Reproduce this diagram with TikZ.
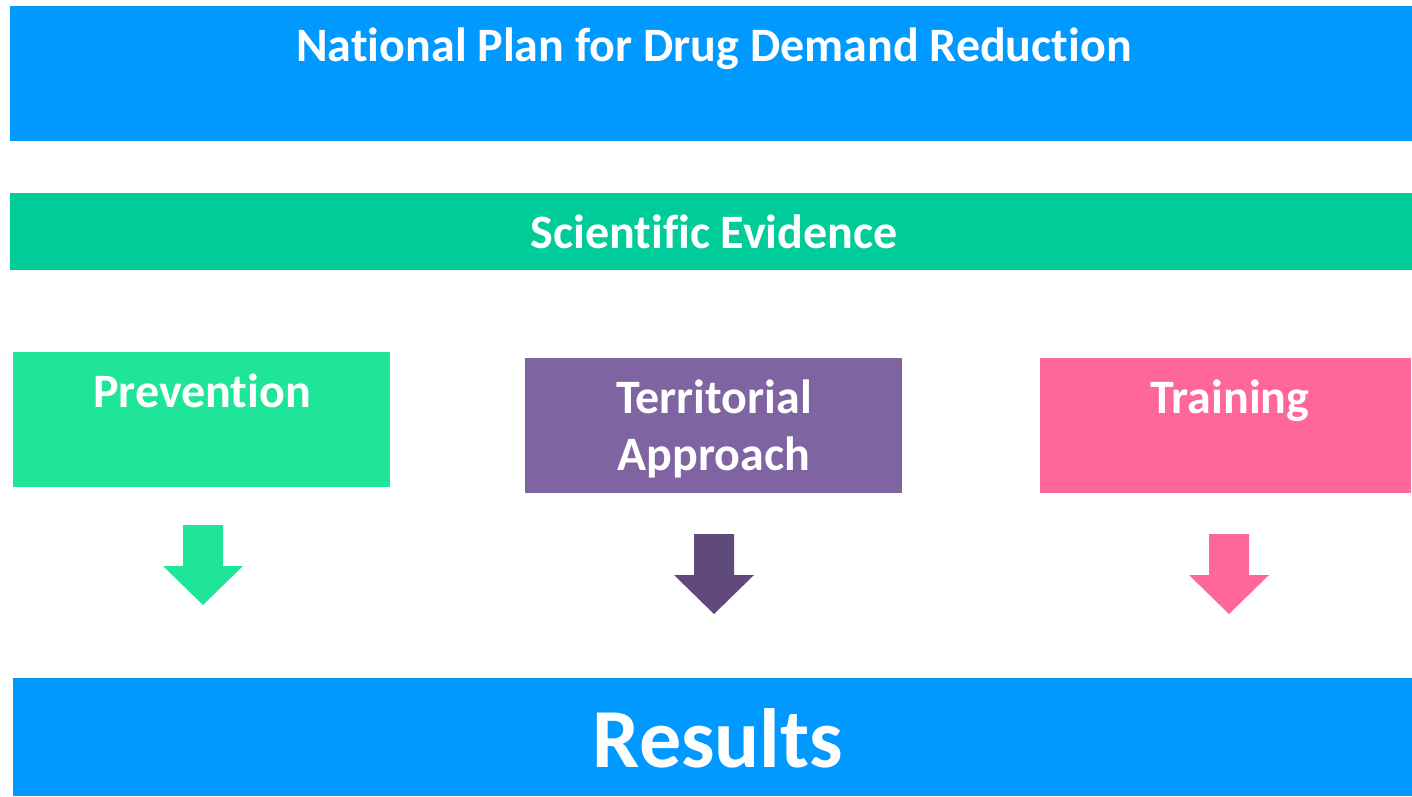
\documentclass[tikz,border=0pt]{standalone}
\usepackage{fontspec}
\setmainfont[Ligatures={NoCommon}]{Carlito}
\definecolor{planblue}{HTML}{0099FF}
\definecolor{sciegreen}{HTML}{00CC99}
\definecolor{prevgreen}{HTML}{1EE598}
\definecolor{terrpurple}{HTML}{8064A2}
\definecolor{terrdark}{HTML}{604A7B}
\definecolor{trainpink}{HTML}{FF6699}
\begin{document}
\begin{tikzpicture}[x=1pt,y=-1pt,
  box/.style={anchor=north west,inner sep=0pt,outer sep=0pt,draw=none},
  lbl/.style={anchor=base,text=white,font=\bfseries\fontsize{48}{57}\selectfont,inner sep=0pt,align=center},
  pics/blockarrow/.style={code={\fill[#1] (-20,0) -- (20,0) -- (20,41) -- (40,41) -- (0,80) -- (-40,41) -- (-20,41) -- cycle;}}]
\useasboundingbox (0,0) rectangle (1412,796);
\fill[white] (0,0) rectangle (1412,796);
\node[box,fill=planblue,minimum width=1402pt,minimum height=135pt] (plan) at (10,6) {};
\node[lbl] (plantxt) at (714,61) {National Plan for Drug Demand Reduction};
\node[box,fill=sciegreen,minimum width=1402pt,minimum height=77pt] (sci) at (10,193) {};
\node[lbl] (scitxt) at (714,248) {Scientific Evidence};
\node[box,fill=prevgreen,minimum width=377pt,minimum height=135pt] (prev) at (13,352) {};
\node[lbl] (prevtxt) at (202,407) {Prevention};
\node[box,fill=terrpurple,minimum width=377pt,minimum height=135pt] (terr) at (525,358) {};
\node[lbl,anchor=north] (terrtxt) at (714,380) {Territorial\\Approach};
\node[box,fill=trainpink,minimum width=371pt,minimum height=135pt] (train) at (1040,358) {};
\node[lbl] (traintxt) at (1230,413) {Training};
\pic at (203,525) {blockarrow=prevgreen};
\pic at (714,534) {blockarrow=terrdark};
\pic at (1229,534) {blockarrow=trainpink};
\node[box,fill=planblue,minimum width=1399pt,minimum height=118pt] (res) at (13,678) {};
\node[lbl,font=\bfseries\fontsize{84}{96}\selectfont] (restxt) at (718,767) {Results};
\end{tikzpicture}
\end{document}
